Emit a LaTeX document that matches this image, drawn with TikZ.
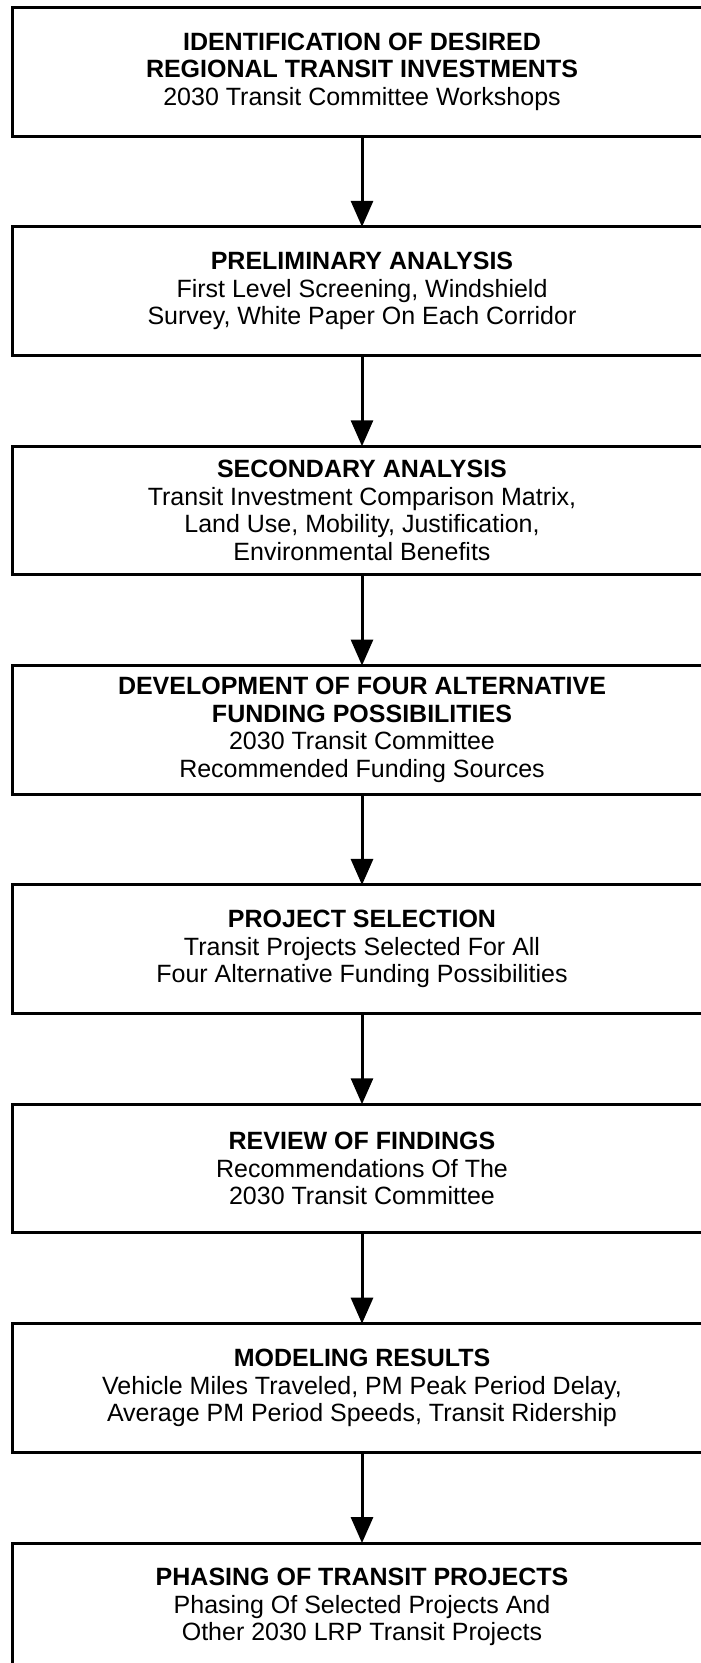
\documentclass[tikz,border=0pt]{standalone}
\usepackage{fontspec}
\setmainfont{Liberation Sans}
\usetikzlibrary{arrows.meta}
\begin{document}
\begin{tikzpicture}[x=1pt,y=-1pt,
  stepbox/.style={draw=black, line width=3pt, rectangle, minimum width=699pt,
    minimum height=128.5pt, inner sep=0pt, outer sep=0pt, align=center,
    font=\fontsize{25}{27.5}\selectfont},
  flow/.style={line width=3pt, -{Triangle[width=22pt,length=26pt]}}]
\useasboundingbox (0,0) rectangle (701,1663);
\clip (0,0) rectangle (701,1663);
\node[stepbox] (b1) at (362,71.75) {\textbf{IDENTIFICATION OF DESIRED}\\\textbf{REGIONAL TRANSIT INVESTMENTS}\\2030 Transit Committee Workshops};
\node[stepbox] (b2) at (362,291.1) {\textbf{PRELIMINARY ANALYSIS}\\First Level Screening, Windshield\\Survey, White Paper On Each Corridor};
\node[stepbox] (b3) at (362,510.5) {\textbf{SECONDARY ANALYSIS}\\Transit Investment Comparison Matrix,\\Land Use, Mobility, Justification,\\Environmental Benefits};
\node[stepbox] (b4) at (362,729.8) {\textbf{DEVELOPMENT OF FOUR ALTERNATIVE}\\\textbf{FUNDING POSSIBILITIES}\\2030 Transit Committee\\Recommended Funding Sources};
\node[stepbox] (b5) at (362,949.2) {\textbf{PROJECT SELECTION}\\Transit Projects Selected For All\\Four Alternative Funding Possibilities};
\node[stepbox] (b6) at (362,1168.5) {\textbf{REVIEW OF FINDINGS}\\Recommendations Of The\\2030 Transit Committee};
\node[stepbox] (b7) at (362,1387.9) {\textbf{MODELING RESULTS}\\Vehicle Miles Traveled, PM Peak Period Delay,\\Average PM Period Speeds, Transit Ridership};
\node[stepbox] (b8) at (362,1607.3) {\textbf{PHASING OF TRANSIT PROJECTS}\\Phasing Of Selected Projects And\\Other 2030 LRP Transit Projects};
\draw[flow] (b1.south) -- (b2.north);
\draw[flow] (b2.south) -- (b3.north);
\draw[flow] (b3.south) -- (b4.north);
\draw[flow] (b4.south) -- (b5.north);
\draw[flow] (b5.south) -- (b6.north);
\draw[flow] (b6.south) -- (b7.north);
\draw[flow] (b7.south) -- (b8.north);
\end{tikzpicture}
\end{document}
